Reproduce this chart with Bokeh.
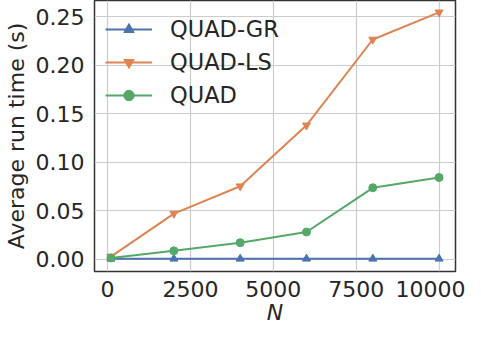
from bokeh.plotting import figure
from bokeh.models import FixedTicker, PrintfTickFormatter, Range1d, Legend, LegendItem
from bokeh.embed import file_html
from bokeh.resources import INLINE

N = [100, 2000, 4000, 6000, 8000, 10000]
quad_gr = [0.0004, 0.0004, 0.0004, 0.0004, 0.0004, 0.0004]
quad_ls = [0.0027, 0.047, 0.0752, 0.138, 0.2265, 0.2545]
quad = [0.0013, 0.0086, 0.017, 0.028, 0.0736, 0.0842]
x_ticks = [0, 2500, 5000, 7500, 10000]
y_ticks = [0.00, 0.05, 0.10, 0.15, 0.20, 0.25]

FONT = "DejaVu Sans"
p = figure(width=465, height=327, output_backend="svg", toolbar_location=None,
           x_range=Range1d(-395, 10495), y_range=Range1d(-0.0127, 0.2667),
           min_border_left=91, min_border_right=10, min_border_top=0, min_border_bottom=55)

p.background_fill_color = "white"
p.outline_line_color = "#333333"
p.outline_line_width = 1.5

for ax in (p.xaxis[0], p.yaxis[0]):
    ax.major_tick_out = 0
    ax.major_tick_in = 0
    ax.minor_tick_out = 0
    ax.minor_tick_in = 0
    ax.axis_line_color = None
    ax.major_label_text_font = FONT
    ax.major_label_text_font_size = "22px"
    ax.major_label_text_color = "#262626"
    ax.axis_label_text_font = FONT
    ax.axis_label_text_font_size = "22px"
    ax.axis_label_text_color = "#262626"

p.xaxis.ticker = FixedTicker(ticks=x_ticks)
p.xaxis.formatter = PrintfTickFormatter(format="%d")
p.yaxis.ticker = FixedTicker(ticks=y_ticks)
p.yaxis.formatter = PrintfTickFormatter(format="%.2f")
p.xaxis.axis_label = "N"
p.xaxis.axis_label_text_font_style = "italic"
p.xaxis.axis_label_standoff = 0
p.xaxis.major_label_standoff = 9
p.yaxis.axis_label = "Average run time (s)"
p.yaxis.axis_label_text_font_style = "normal"
p.yaxis.major_label_standoff = 10
p.yaxis.axis_label_standoff = 4

p.xgrid.grid_line_color = "#cccccc"
p.ygrid.grid_line_color = "#cccccc"
p.xgrid.grid_line_width = 1.2
p.ygrid.grid_line_width = 1.2

blue, orange, green = "#4C72B0", "#DD8452", "#55A868"

l1 = p.line(N, quad_gr, line_color=blue, line_width=2)
m1 = p.scatter(N, quad_gr, marker="triangle", size=8, fill_color=blue, line_color=blue)
l2 = p.line(N, quad_ls, line_color=orange, line_width=2)
m2 = p.scatter(N, quad_ls, marker="inverted_triangle", size=8, fill_color=orange, line_color=orange)
l3 = p.line(N, quad, line_color=green, line_width=2)
m3 = p.scatter(N, quad, marker="circle", size=8, fill_color=green, line_color=green)

legend = Legend(items=[
    LegendItem(label="QUAD-GR", renderers=[l1, m1]),
    LegendItem(label="QUAD-LS", renderers=[l2, m2]),
    LegendItem(label="QUAD", renderers=[l3, m3]),
], location=(11, 163))
legend.label_text_font = FONT
legend.label_text_font_size = "22.5px"
legend.label_text_color = "#262626"
legend.background_fill_alpha = 0
legend.border_line_color = None
legend.glyph_width = 47
legend.glyph_height = 26
legend.spacing = 7
legend.label_standoff = 18
legend.margin = 0
legend.padding = 8
p.add_layout(legend)

open("out.html", "w").write(file_html(p, INLINE))
